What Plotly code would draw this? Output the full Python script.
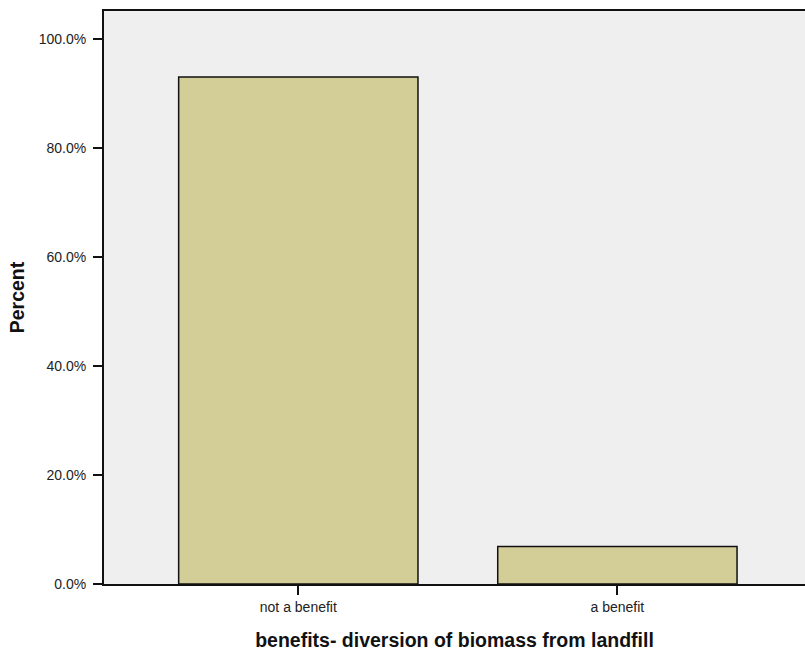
import plotly.graph_objects as go

categories = ["not a benefit", "a benefit"]
percent_values = [93.1, 6.9]
y_tick_values = [0, 20, 40, 60, 80, 100]
y_tick_labels = ["0.0%", "20.0%", "40.0%", "60.0%", "80.0%", "100.0%"]

FONT = "Liberation Sans, Arial, sans-serif"

fig = go.Figure()
fig.add_trace(go.Bar(
    x=[0, 1],
    y=percent_values,
    width=0.75,
    marker=dict(color="#d3ce98", line=dict(color="#111111", width=1.5)),
    hoverinfo="skip",
))

fig.update_layout(
    width=805, height=654,
    margin=dict(l=104, r=0, t=11, b=70),
    paper_bgcolor="white",
    plot_bgcolor="#efefef",
    showlegend=False,
    font=dict(family=FONT, size=14, color="#222222"),
    bargap=0.25,
)

fig.update_xaxes(
    range=[-0.609, 1.588],
    tickmode="array",
    tickvals=[0, 1],
    ticktext=categories,
    ticks="outside", ticklen=9, tickwidth=1.5, tickcolor="#111111",
    showline=True, linecolor="#111111", linewidth=2,
    mirror=True,
    showgrid=False, zeroline=False,
    tickfont=dict(family=FONT, size=14, color="#222222"),
    title=dict(text="<b>benefits- diversion of biomass from landfill</b>",
               font=dict(family=FONT, size=19.5, color="#111111"), standoff=20),
)

fig.update_yaxes(
    range=[0, 105.2],
    tickmode="array",
    tickvals=y_tick_values,
    ticktext=y_tick_labels,
    ticks="outside", ticklen=9, tickwidth=1.5, tickcolor="#111111",
    showline=True, linecolor="#111111", linewidth=2,
    showgrid=False, zeroline=False,
    ticklabelstandoff=4,
    tickfont=dict(family=FONT, size=14, color="#222222"),
    title=dict(text="<b>Percent</b>",
               font=dict(family=FONT, size=19.5, color="#111111"), standoff=9),
)

fig.write_html(
    "out.html",
    config={"displayModeBar": False},
    post_script="document.body.style.margin='0';document.body.style.overflow='hidden';",
)
